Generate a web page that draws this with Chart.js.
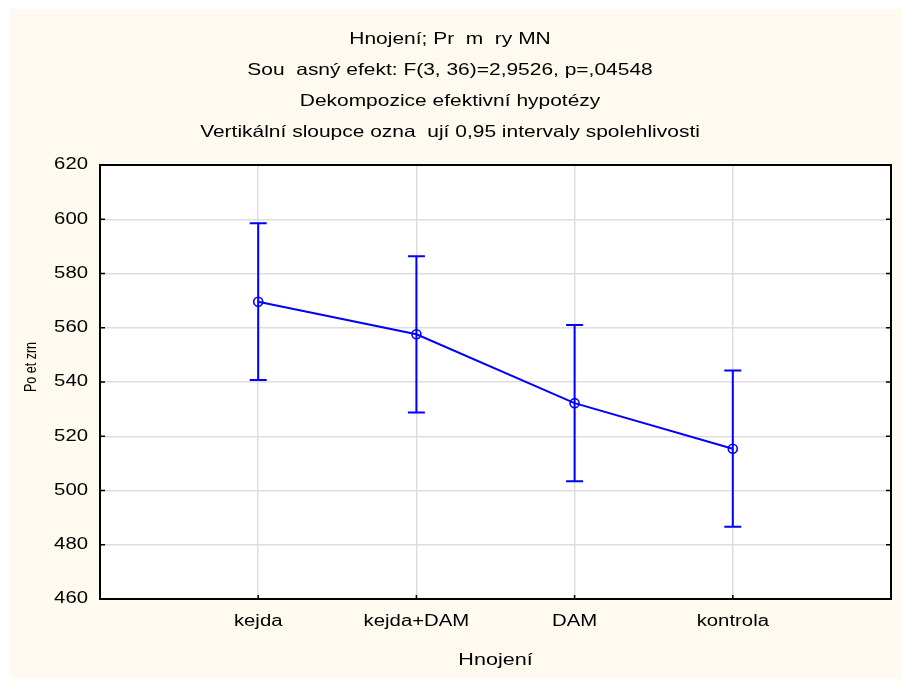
<!DOCTYPE html>
<html>
<head>
<meta charset="utf-8">
<script src="https://cdn.jsdelivr.net/npm/chart.js@4.4.1/dist/chart.umd.min.js"></script>
<style>
  html, body { margin: 0; padding: 0; background: #ffffff; }
  #panel { position: absolute; left: 9px; top: 9px; width: 893px; height: 670px; background: #fffaf0; }
</style>
</head>
<body>
<div id="panel"><canvas id="graf" width="893" height="670"></canvas></div>
<script>
// data
const kategorie = ['kejda', 'kejda+DAM', 'DAM', 'kontrola'];
const prumery = [569.6, 557.6, 532.2, 515.4];
const interval95 = [28.9, 28.8, 28.8, 28.8];
const yTicky = [460, 480, 500, 520, 540, 560, 580, 600, 620];

const nadpis = [
  'Hnojení; Pr  m  ry MN',
  'Sou  asný efekt: F(3, 36)=2,9526, p=,04548',
  'Dekompozice efektivní hypotézy',
  'Vertikální sloupce ozna  ují 0,95 intervaly spolehlivosti'
];
const nazevX = 'Hnojení';
const nazevY = 'Po et zrn';

const MODRA = '#0000ff';
const PISMO = 'Liberation Sans';
const ROZTAZENI = 1.27; // text ve statistice je roztazeny do sirky

const ctx = document.getElementById('graf').getContext('2d');

// fillText roztahne text kolem kotviciho bodu (zarovnani zustava)
const puvodniFillText = ctx.fillText;
ctx.fillText = function(text, x, y) {
  this.save();
  this.translate(x, y);
  this.scale(ROZTAZENI, 1);
  puvodniFillText.call(this, text, 0, 0);
  this.restore();
};

const body = kategorie.map((k, i) => ({ x: i + 1, y: prumery[i] }));

// pozadi, ramecek, ticky dovnitr, chybove usecky
const ramecekPlugin = {
  id: 'ramecek',
  beforeDraw(chart) {
    const a = chart.chartArea;
    const c = chart.ctx;
    c.save();
    c.fillStyle = '#ffffff';
    c.fillRect(a.left, a.top, a.right - a.left, a.bottom - a.top);
    c.restore();
  },
  afterDatasetsDraw(chart) {
    const c = chart.ctx;
    const xs = chart.scales.x;
    const ys = chart.scales.y;
    c.save();
    c.strokeStyle = MODRA;
    c.lineWidth = 2;
    for (let i = 0; i < prumery.length; i++) {
      const x = xs.getPixelForValue(i + 1);
      const yh = ys.getPixelForValue(prumery[i] + interval95[i]);
      const yd = ys.getPixelForValue(prumery[i] - interval95[i]);
      c.beginPath();
      c.moveTo(x, yh); c.lineTo(x, yd);
      c.moveTo(x - 8.5, yh); c.lineTo(x + 8.5, yh);
      c.moveTo(x - 8.5, yd); c.lineTo(x + 8.5, yd);
      c.stroke();
    }
    c.restore();
  },
  afterDraw(chart) {
    const a = chart.chartArea;
    const c = chart.ctx;
    const xs = chart.scales.x;
    const ys = chart.scales.y;
    c.save();
    c.strokeStyle = '#000000';
    c.lineWidth = 1.5;
    c.beginPath();
    yTicky.forEach(v => {
      const y = ys.getPixelForValue(v);
      c.moveTo(a.left, y); c.lineTo(a.left + 5, y);
      c.moveTo(a.right, y); c.lineTo(a.right - 5, y);
    });
    kategorie.forEach((k, i) => {
      const x = xs.getPixelForValue(i + 1);
      c.moveTo(x, a.bottom); c.lineTo(x, a.bottom - 4);
    });
    c.stroke();
    c.lineWidth = 2;
    c.strokeRect(a.left, a.top, a.right - a.left, a.bottom - a.top);

    // popisek osy y (v originale naopak zuzeny)
    c.fillStyle = '#000000';
    c.font = '16px "' + PISMO + '"';
    c.textAlign = 'center';
    c.textBaseline = 'middle';
    c.translate(23, 358);
    c.rotate(-Math.PI / 2);
    c.scale(0.78, 1);
    puvodniFillText.call(c, nazevY, 0, 0);
    c.restore();
  }
};

new Chart(ctx, {
  type: 'line',
  data: {
    datasets: [{
      data: body,
      borderColor: MODRA,
      borderWidth: 2,
      pointRadius: 4.5,
      pointBorderWidth: 1.6,
      pointBorderColor: MODRA,
      pointBackgroundColor: 'rgba(0,0,0,0)',
      tension: 0
    }]
  },
  options: {
    responsive: false,
    animation: false,
    layout: { padding: { left: 0, right: 11, top: 0, bottom: 0 } },
    plugins: {
      legend: { display: false },
      tooltip: { enabled: false },
      title: {
        display: true,
        text: nadpis,
        color: '#000000',
        font: { family: PISMO, size: 16.5, weight: 'normal', lineHeight: 31 / 16.5 },
        padding: { top: 15, bottom: 17 }
      }
    },
    scales: {
      x: {
        type: 'linear',
        min: 0,
        max: 5,
        afterBuildTicks: s => { s.ticks = kategorie.map((k, i) => ({ value: i + 1 })); },
        afterFit: s => { s.height = 80; },
        ticks: {
          callback: v => kategorie[v - 1] || '',
          color: '#000000',
          font: { family: PISMO, size: 16 },
          padding: 13,
          maxRotation: 0,
          autoSkip: false
        },
        title: {
          display: true,
          text: nazevX,
          color: '#000000',
          font: { family: PISMO, size: 17, lineHeight: 1.2 },
          padding: { top: 0, bottom: 8.8 }
        },
        grid: { color: '#dddddd', lineWidth: 1.5, drawTicks: false },
        border: { display: false }
      },
      y: {
        min: 460,
        max: 620,
        afterBuildTicks: s => { s.ticks = yTicky.map(v => ({ value: v })); },
        afterFit: s => { s.width = 91; },
        ticks: {
          color: '#000000',
          font: { family: PISMO, size: 16 },
          padding: 12
        },
        grid: { color: '#dddddd', lineWidth: 1.5, drawTicks: false },
        border: { display: false }
      }
    }
  },
  plugins: [ramecekPlugin]
});
</script>
</body>
</html>
